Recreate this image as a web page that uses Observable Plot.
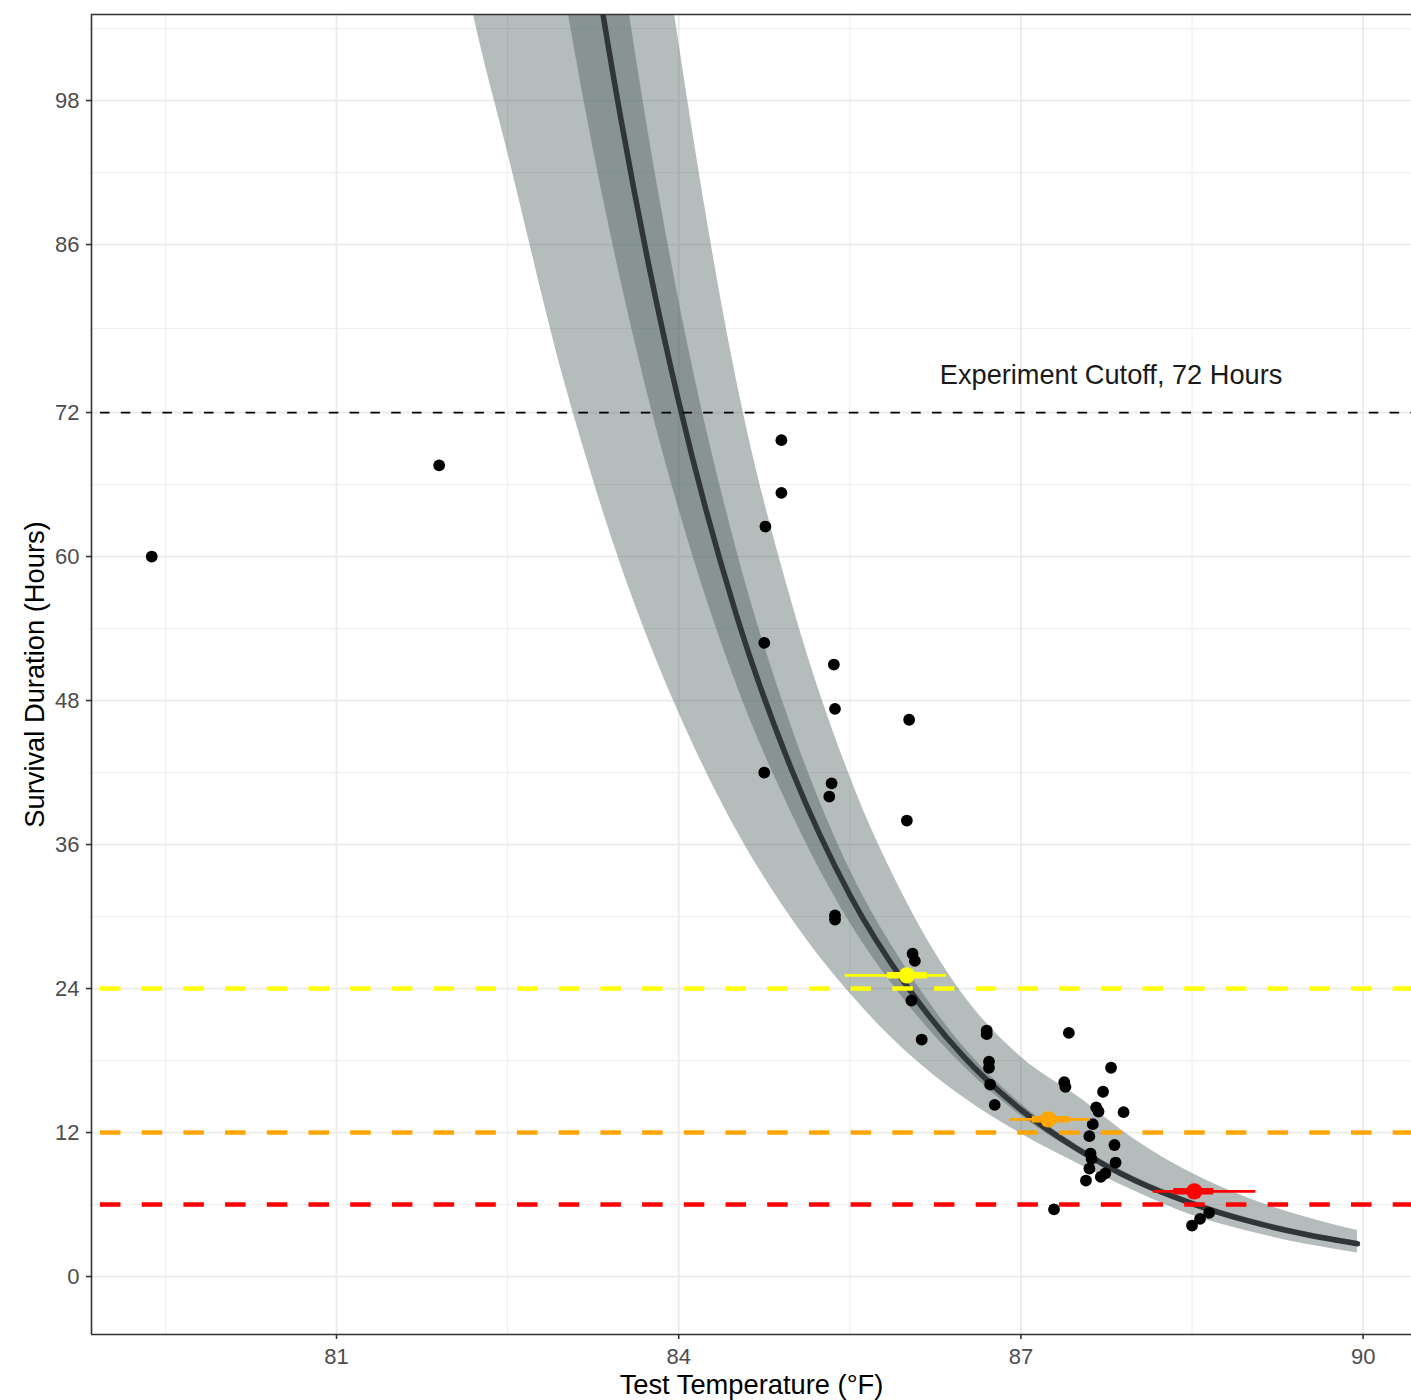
<!DOCTYPE html>
<html>
<head>
<meta charset="utf-8">
<script src="https://cdn.jsdelivr.net/npm/d3@7"></script>
<script src="https://cdn.jsdelivr.net/npm/@observablehq/plot@0.6"></script>
<style>
  body { margin: 0; background: #ffffff; }
  #chart svg { display: block; }
</style>
</head>
<body>
<div id="chart"></div>
<script>
// Observed survival durations (°F, hours)
const obsTemp = [79.38, 81.90, 84.90, 84.90, 84.76, 84.75, 85.36, 85.37, 86.02, 84.75, 85.34, 85.32, 86.00,
  85.37, 85.37, 86.05, 86.07, 86.04, 86.13, 86.70, 86.70, 86.72, 86.72, 86.73, 86.77, 87.42, 87.38, 87.39,
  87.79, 87.72, 87.66, 87.68, 87.90, 87.63, 87.60, 87.82, 87.61, 87.62, 87.83, 87.60, 87.74, 87.70, 87.57,
  87.29, 88.50, 88.57, 88.65];
const obsHours = [60.0, 67.6, 69.7, 65.3, 62.5, 52.8, 51.0, 47.3, 46.4, 42.0, 41.1, 40.0, 38.0,
  30.1, 29.75, 26.9, 26.3, 23.0, 19.75, 20.5, 20.2, 17.9, 17.4, 16.0, 14.3, 20.3, 16.2, 15.8,
  17.4, 15.4, 14.1, 13.75, 13.7, 12.7, 11.7, 10.96, 10.25, 9.8, 9.5, 9.0, 8.6, 8.3, 8.0,
  5.6, 4.25, 4.8, 5.3];

// Fitted survival curve with its inner and outer intervals
const curveTemp   = [82.0, 82.2, 82.5, 83.0, 83.25, 83.5, 83.75, 84.0, 84.5, 85.0, 85.5, 86.0, 86.5, 87.0, 87.5, 88.0, 88.5, 89.0, 89.5, 89.95];
const fitHours    = [220, 197.5, 167.0, 126.8, 110.3, 96.1, 83.7, 72.9, 55.3, 42.0, 31.8, 24.2, 18.3, 13.9, 10.6, 8.0, 6.08, 4.61, 3.50, 2.73];
const innerLower  = [180, 162, 138.1, 107.0, 94.0, 82.7, 72.7, 64.0, 49.5, 38.4, 29.5, 22.8, 17.5, 13.4, 10.3, 7.73, 5.84, 4.38, 3.30, 2.56];
const innerUpper  = [260, 232, 196.9, 146.6, 126.5, 109.5, 94.4, 81.4, 60.8, 45.5, 33.9, 25.6, 19.1, 14.4, 10.9, 8.29, 6.33, 4.85, 3.72, 2.91];
const outerLower  = [114.8, 105.2, 93.7, 74.5, 66.4, 59.1, 52.7, 47.0, 37.3, 29.7, 23.6, 18.7, 14.9, 11.9, 9.4, 7.1, 5.1, 3.75, 2.7, 1.97];
const outerUpper  = [330, 300, 251, 187, 158, 139, 119.4, 102.9, 75.0, 55.9, 41.7, 31.2, 23.4, 18.3, 15.0, 11.4, 8.6, 6.5, 4.95, 3.84];

// Temperatures reaching 24 h, 12 h and 6 h survival, with 50% and 95% intervals
const thresholdHours  = [24, 12, 6];
const thresholdColors = ["#ffff00", "#ffa500", "#ff0000"];
const estTemp   = [86.00, 87.24, 88.52];
const estHours  = [25.1, 13.1, 7.1];
const wideLow   = [85.46, 86.90, 88.16];
const wideHigh  = [86.35, 87.61, 89.06];
const narrowLow = [85.83, 87.10, 88.34];
const narrowHigh= [86.18, 87.43, 88.69];

// Experiment cutoff
const cutoffHours = 72;
const cutoffLabel = "Experiment Cutoff, 72 Hours";
const cutoffLabelTemp = 87.79;
const cutoffLabelHours = 75.1;

// Axes
const xTicks = [81, 84, 87, 90];
const xMinor = [79.5, 82.5, 85.5, 88.5];
const yTicks = [0, 12, 24, 36, 48, 60, 72, 86, 98];
const yMinor = [6, 18, 30, 42, 54, 66, 79, 92, 104];
const xTitle = "Test Temperature (°F)";
const yTitle = "Survival Duration (Hours)";

const curve = curveTemp.map((t, i) => ({
  t, fit: fitHours[i], inLo: innerLower[i], inHi: innerUpper[i], outLo: outerLower[i], outHi: outerUpper[i]
}));
const obs = obsTemp.map((t, i) => ({t, h: obsHours[i]}));
const est = estTemp.map((t, i) => ({
  t, h: estHours[i], wl: wideLow[i], wh: wideHigh[i], nl: narrowLow[i], nh: narrowHigh[i], c: thresholdColors[i]
}));
const thresholds = thresholdHours.map((h, i) => ({h, c: thresholdColors[i]}));

const grid = "#ebebeb";
const bandFill = "rgb(72,92,92)";

const chart = Plot.plot({
  width: 1411,
  height: 1400,
  marginLeft: 91,
  marginRight: 0,
  marginTop: 14,
  marginBottom: 66,
  x: {domain: [78.852, 90.424]},
  y: {domain: [-4.83, 105.17]},
  style: {fontFamily: "'Liberation Sans', Arial, sans-serif", background: "#ffffff"},
  marks: [
    // panel grid
    Plot.ruleX(xMinor, {stroke: grid, strokeWidth: 0.9}),
    Plot.ruleY(yMinor, {stroke: grid, strokeWidth: 0.9}),
    Plot.ruleX(xTicks, {stroke: grid, strokeWidth: 1.8}),
    Plot.ruleY(yTicks, {stroke: grid, strokeWidth: 1.8}),

    // intervals and fitted curve
    Plot.areaY(curve, {x: "t", y1: "outLo", y2: "outHi", fill: bandFill, fillOpacity: 0.41, curve: "monotone-x", clip: true}),
    Plot.areaY(curve, {x: "t", y1: "inLo", y2: "inHi", fill: bandFill, fillOpacity: 0.41, curve: "monotone-x", clip: true}),
    Plot.line(curve, {x: "t", y: "fit", stroke: "#2f3538", strokeWidth: 5.5, curve: "monotone-x", clip: true}),

    // reference lines
    Plot.ruleY([cutoffHours], {stroke: "#000000", strokeWidth: 1.7, strokeDasharray: "9.5 11.3", strokeDashoffset: 11.8}),
    Plot.ruleY(thresholds, {y: "h", stroke: "c", strokeWidth: 4.6, strokeDasharray: "20.5 21.2", strokeDashoffset: 32.7}),
    Plot.text([cutoffLabel], {x: cutoffLabelTemp, y: cutoffLabelHours, fontSize: 27.2, fill: "#1a1a1a"}),

    // observations
    Plot.dot(obs, {x: "t", y: "h", r: 5.9, fill: "#000000", clip: true}),

    // threshold estimates
    Plot.ruleY(est, {y: "h", x1: "wl", x2: "wh", stroke: "c", strokeWidth: 2.6}),
    Plot.ruleY(est, {y: "h", x1: "nl", x2: "nh", stroke: "c", strokeWidth: 6.5}),
    Plot.dot(est, {x: "t", y: "h", r: 8.2, fill: "c"}),

    // panel border
    Plot.ruleX([78.852], {stroke: "#333333", strokeWidth: 1.6}),
    Plot.ruleY([-4.83, 105.17], {stroke: "#333333", strokeWidth: 1.6}),

    // axes
    Plot.axisX(xTicks, {tickSize: 5, tickPadding: 9, fontSize: 22, stroke: "#333333", fill: "#4d4d4d", strokeWidth: 1.6, label: null, tickFormat: d => String(d)}),
    Plot.axisY(yTicks, {tickSize: 5, tickPadding: 7, fontSize: 22, stroke: "#333333", fill: "#4d4d4d", strokeWidth: 1.6, label: null, tickFormat: d => String(d)}),
    Plot.text([xTitle], {frameAnchor: "bottom", dy: 51, lineAnchor: "middle", textAnchor: "middle", fontSize: 27.3, fill: "#000000"}),
    Plot.text([yTitle], {frameAnchor: "left", dx: -56, rotate: -90, lineAnchor: "middle", textAnchor: "middle", fontSize: 27.3, fill: "#000000"})
  ]
});

document.getElementById("chart").appendChild(chart);
</script>
</body>
</html>
